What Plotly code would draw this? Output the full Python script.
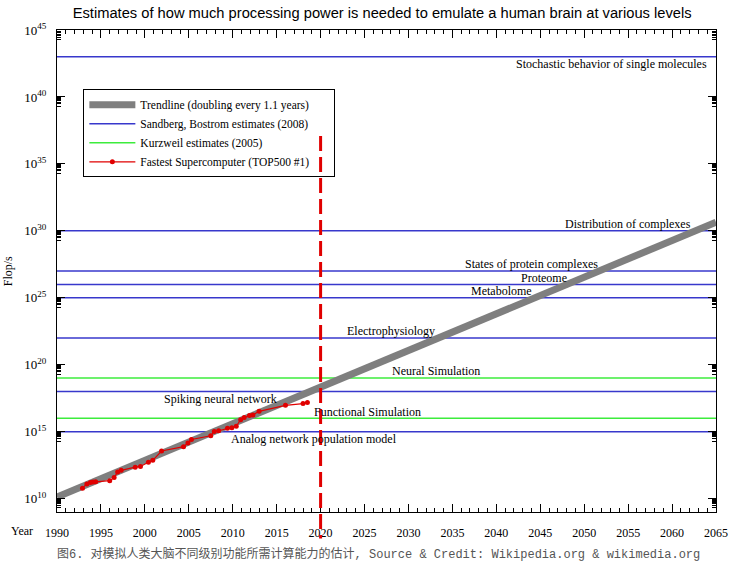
import numpy as np
import plotly.graph_objects as go

# ---------------- data ----------------
super_years = [1992.9, 1993.4, 1993.8, 1994.1, 1994.4, 1996.0, 1996.5, 1996.9, 1997.3,
               1998.9, 1999.5, 2000.4, 2000.9, 2001.9, 2004.4, 2004.9, 2005.3, 2007.5,
               2007.9, 2008.4, 2009.4, 2009.9, 2010.4, 2010.9, 2011.3, 2011.9, 2012.3,
               2013.0, 2016.0, 2018.0, 2018.5]
super_flops = [6.0e10, 1.26e11, 1.58e11, 1.74e11, 1.78e11, 2.2e11, 3.8e11, 9.8e11, 1.29e12,
               2.24e12, 2.5e12, 5.2e12, 7.2e12, 3.6e13, 7.6e13, 1.41e14, 2.6e14, 4.9e14,
               1.05e15, 1.17e15, 1.8e15, 2.0e15, 2.5e15, 7.9e15, 1.12e16, 1.58e16, 1.78e16,
               3.3e16, 9.3e16, 1.26e17, 1.48e17]

trend_years = [1990, 2065]
trend_flops = [1.32e10, 4.4e30]

sandberg_levels = [1e43, 1e30, 1e27, 1e26, 1e25, 1e22, 1e18, 1e15]
sandberg_labels = ["Stochastic behavior of single molecules", "Distribution of complexes",
                   "States of protein complexes", "Proteome", "Metabolome",
                   "Electrophysiology", "Spiking neural network",
                   "Analog network population model"]
kurzweil_levels = [1e19, 1e16]
kurzweil_labels = ["Neural Simulation", "Functional Simulation"]

year_range = [1990, 2065]
x_tick_years = list(range(1990, 2066, 5))
y_tick_exps = [10, 15, 20, 25, 30, 35, 40, 45]
marker_year = 2020

# --------------- styling / label placement ---------------
label_pos = {  # center year, vertical pixel shift
    "Stochastic behavior of single molecules": (2053.1, -7),
    "Distribution of complexes": (2055.0, 7),
    "States of protein complexes": (2043.95, 7),
    "Proteome": (2045.4, 6),
    "Metabolome": (2040.55, 7),
    "Electrophysiology": (2028.0, 7),
    "Neural Simulation": (2033.1, 7),
    "Spiking neural network": (2008.6, -7),
    "Functional Simulation": (2025.3, 6.5),
    "Analog network population model": (2019.2, -7.5),
}

SERIF = "Liberation Serif, Times New Roman, serif"
BLUE = "#3838cc"
GREEN = "#3cec3c"
GRAY = "#7f7f7f"
RED = "#e00000"
PAD = "\u00a0" * 7

def hlines(levels):
    xs, ys = [], []
    for v in levels:
        xs += [year_range[0], year_range[1], None]
        ys += [v, v, None]
    return xs, ys

fig = go.Figure()

bx, by = hlines(sandberg_levels)
fig.add_trace(go.Scatter(x=bx, y=by, mode="lines", line=dict(color=BLUE, width=1.5),
                         name="Sandberg, Bostrom estimates (2008)", legendrank=2,
                         hoverinfo="skip"))
gx, gy = hlines(kurzweil_levels)
fig.add_trace(go.Scatter(x=gx, y=gy, mode="lines", line=dict(color=GREEN, width=1.5),
                         name="Kurzweil estimates (2005)", legendrank=3,
                         hoverinfo="skip"))
fig.add_trace(go.Scatter(x=trend_years, y=trend_flops, mode="lines",
                         line=dict(color=GRAY, width=7),
                         name="Trendline (doubling every 1.1 years)" + PAD, legendrank=1))
fig.add_trace(go.Scatter(x=super_years, y=super_flops, mode="lines+markers",
                         line=dict(color=RED, width=1.2),
                         marker=dict(color=RED, size=5),
                         name="Fastest Supercomputer (TOP500 #1)", legendrank=4))

# labels on the level lines
annotations = []
for lev, lab in list(zip(sandberg_levels, sandberg_labels)) + list(zip(kurzweil_levels, kurzweil_labels)):
    xc, shift = label_pos[lab]
    annotations.append(dict(x=xc, y=np.log10(lev), xref="x", yref="y", text=lab,
                            showarrow=False, yshift=shift, xanchor="center", yanchor="middle",
                            font=dict(family=SERIF, size=12, color="black")))

annotations.append(dict(x=-0.053, y=-0.04, xref="paper", yref="paper", text="Year",
                        showarrow=False, xanchor="center", yanchor="middle",
                        font=dict(family=SERIF, size=12, color="black")))
annotations.append(dict(x=-0.074, y=0.5, xref="paper", yref="paper", text="Flop/s",
                        showarrow=False, textangle=-90, xanchor="center", yanchor="middle",
                        font=dict(family=SERIF, size=12, color="black")))
annotations.append(dict(x=0.488, y=-0.088, xref="paper", yref="paper",
                        text="图6. 对模拟人类大脑不同级别功能所需计算能力的估计, Source & Credit: Wikipedia.org & wikimedia.org",
                        showarrow=False, xanchor="center", yanchor="middle",
                        font=dict(family="Liberation Mono, Noto Sans CJK SC", size=12, color="#555555")))

minor_y = [k * 10.0 ** (e - 1) for e in y_tick_exps for k in range(2, 10)]

fig.update_layout(
    width=742, height=569,
    margin=dict(l=57, r=26, t=30, b=57),
    paper_bgcolor="white", plot_bgcolor="white",
    title=dict(text="Estimates of how much processing power is needed to emulate a human brain at various levels",
               x=0.515, xanchor="center", y=1 - 13 / 569, yanchor="middle", yref="container",
               font=dict(family="Liberation Sans, Arial, sans-serif", size=14.7, color="black")),
    showlegend=True,
    legend=dict(x=0.04, y=0.877, xanchor="left", yanchor="top",
                bgcolor="rgba(255,255,255,0)", bordercolor="black", borderwidth=1,
                font=dict(family=SERIF, size=11.5, color="black"),
                tracegroupgap=0, itemwidth=46),
    annotations=annotations,
    shapes=[dict(type="line", xref="x", yref="paper", x0=marker_year, x1=marker_year,
                 y0=0.78, y1=-0.055, layer="above",
                 line=dict(color=RED, width=3, dash="15px,6px"))],
)

fig.update_xaxes(range=year_range, tickmode="array", tickvals=x_tick_years,
                 ticks="inside", ticklen=8, tickwidth=1, tickcolor="black",
                 showline=True, linecolor="black", linewidth=1, mirror="ticks",
                 showgrid=False, zeroline=False, ticklabelstandoff=10,
                 tickfont=dict(family=SERIF, size=12, color="black"),
                 minor=dict(dtick=1, tick0=1990, ticks="inside", ticklen=4,
                            tickcolor="black", showgrid=False))
fig.update_yaxes(type="log", range=[9, 45], tickmode="array",
                 tickvals=[10.0 ** e for e in y_tick_exps],
                 ticktext=["10<sup>%d</sup>" % e for e in y_tick_exps],
                 ticks="inside", ticklen=8, tickwidth=1, tickcolor="black",
                 showline=True, linecolor="black", linewidth=1, mirror="ticks",
                 showgrid=False, zeroline=False, ticklabelstandoff=7,
                 tickfont=dict(family=SERIF, size=13, color="black"),
                 minor=dict(tickmode="array", tickvals=minor_y, ticks="inside", ticklen=4,
                            tickcolor="black", showgrid=False))

fig.write_html("out.html")
